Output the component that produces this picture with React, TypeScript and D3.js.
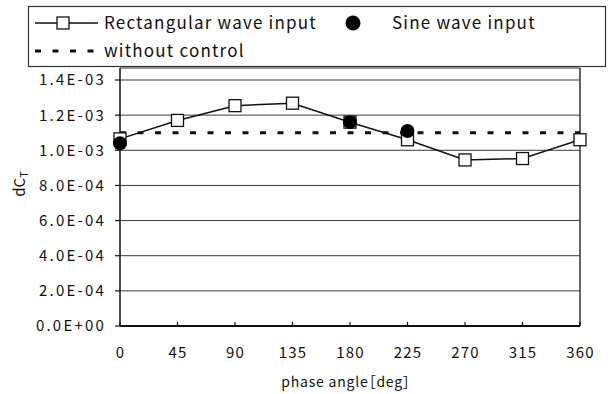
import React from "react";
import * as d3 from "d3";

const angles = [0, 45, 90, 135, 180, 225, 270, 315, 360];
const rectWave = [1.065e-3, 1.17e-3, 1.254e-3, 1.268e-3, 1.16e-3, 1.06e-3, 0.945e-3, 0.953e-3, 1.06e-3];
const sineAngles = [0, 180, 225];
const sineWave = [1.04e-3, 1.16e-3, 1.11e-3];
const noControlAngles = [0, 360];
const noControl = [1.1e-3, 1.1e-3];
const yTicks = [0, 2e-4, 4e-4, 6e-4, 8e-4, 1.0e-3, 1.2e-3, 1.4e-3];
const yTickLabels = ["0.0E+00", "2.0E-04", "4.0E-04", "6.0E-04", "8.0E-04", "1.0E-03", "1.2E-03", "1.4E-03"];
const xTicks = [0, 45, 90, 135, 180, 225, 270, 315, 360];
const legendLabels = ["Rectangular wave input", "Sine wave input", "without control"];

const FONT = "'Noto Sans CJK JP', 'Noto Sans', sans-serif";

export default function App() {
  const W = 610, H = 394;
  const left = 120, right = 580, plotTop = 68, bottom = 326;
  const x = d3.scaleLinear().domain([0, 360]).range([left, right]);
  const y = d3.scaleLinear().domain([0, 1.4e-3]).range([bottom, 80]);

  const rectLine = d3.line<number>().x((_, i) => x(angles[i])).y((d) => y(d))(rectWave) || "";
  const ncLine = d3.line<number>().x((_, i) => x(noControlAngles[i])).y((d) => y(d))(noControl) || "";

  const sq = 12;
  const dash = "6 11.5";

  return (
    <svg width={W} height={H} style={{ position: "absolute", left: 0, top: 0, background: "#fff" }} fontFamily={FONT}>
      <rect x={0} y={0} width={W} height={H} fill="#fff" />
      {/* gridlines */}
      {yTicks.slice(1).map((t) => (
        <line key={t} x1={left} x2={right} y1={y(t)} y2={y(t)} stroke="#3a3a3a" strokeWidth={1} />
      ))}
      {/* plot frame */}
      <line x1={left} x2={right} y1={plotTop} y2={plotTop} stroke="#333" strokeWidth={1} />
      <line x1={right} x2={right} y1={plotTop} y2={bottom} stroke="#333" strokeWidth={1.5} />
      {/* y axis */}
      <line x1={left} x2={left} y1={plotTop} y2={bottom} stroke="#111" strokeWidth={1.5} />
      {yTicks.map((t) => (
        <line key={"yt" + t} x1={left - 5} x2={left} y1={y(t)} y2={y(t)} stroke="#111" strokeWidth={1.2} />
      ))}
      {yTicks.map((t, i) => (
        <text key={"yl" + t} x={106} y={y(t)} dy="0.36em" textAnchor="end" fontSize={15} letterSpacing={2.2} fill="#111">
          {yTickLabels[i]}
        </text>
      ))}
      {/* x axis */}
      <line x1={left} x2={right} y1={bottom} y2={bottom} stroke="#111" strokeWidth={2} />
      {xTicks.map((t) => (
        <line key={"xt" + t} x1={x(t)} x2={x(t)} y1={bottom - 4} y2={bottom} stroke="#111" strokeWidth={1.2} />
      ))}
      {xTicks.map((t) => (
        <text key={"xl" + t} x={x(t) + 0.6} y={353} dy="0.36em" textAnchor="middle" fontSize={15} letterSpacing={1.2} fill="#111">
          {t}
        </text>
      ))}
      <text x={x(180) - 4} y={382} dy="0.36em" textAnchor="middle" fontSize={14} letterSpacing={0.8} fill="#111" style={{ fontFeatureSettings: "'palt'" }}>
        phase angle［deg］
      </text>
      <text transform={`translate(25,184) rotate(-90)`} textAnchor="middle" fontSize={15} fill="#111">
        dC<tspan fontSize={11} dy="3">T</tspan>
      </text>

      {/* without control */}
      <path d={ncLine} fill="none" stroke="#111" strokeWidth={3} strokeDasharray={dash} />
      {/* rectangular */}
      <path d={rectLine} fill="none" stroke="#111" strokeWidth={1.5} />
      {rectWave.map((v, i) => (
        <rect key={"sq" + i} x={x(angles[i]) - sq / 2} y={y(v) - sq / 2} width={sq} height={sq} fill="#fff" stroke="#111" strokeWidth={1.3} />
      ))}
      {sineWave.map((v, i) => (
        <circle key={"c" + i} cx={x(sineAngles[i])} cy={y(v)} r={7} fill="#000" />
      ))}

      {/* legend */}
      <rect x={28.5} y={6.5} width={577} height={60} fill="#fff" stroke="#333" strokeWidth={1.2} />
      <line x1={35} x2={98} y1={23} y2={23} stroke="#111" strokeWidth={1.5} />
      <rect x={63 - sq / 2} y={23 - sq / 2} width={sq} height={sq} fill="#fff" stroke="#111" strokeWidth={1.3} />
      <text x={104} y={23} dy="0.36em" fontSize={17} letterSpacing={1.2} fill="#111">{legendLabels[0]}</text>
      <circle cx={353} cy={23} r={7.5} fill="#000" />
      <text x={392} y={23} dy="0.36em" fontSize={17} letterSpacing={1.2} fill="#111">{legendLabels[1]}</text>
      <line x1={35} x2={98} y1={51} y2={51} stroke="#111" strokeWidth={3} strokeDasharray={dash} />
      <text x={104} y={51} dy="0.36em" fontSize={17} letterSpacing={1.2} fill="#111">{legendLabels[2]}</text>
    </svg>
  );
}
